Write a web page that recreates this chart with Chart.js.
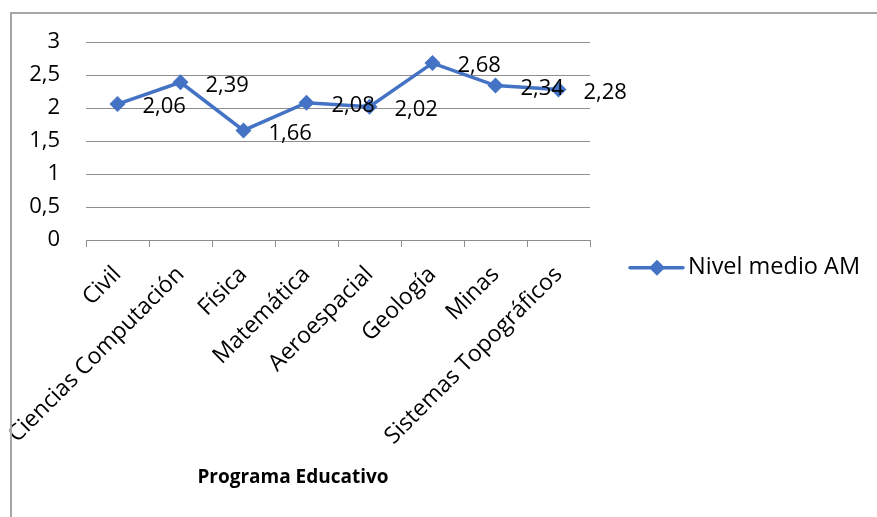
<!DOCTYPE html>
<html>
<head>
<meta charset="utf-8">
<script src="https://cdn.jsdelivr.net/npm/chart.js"></script>
<style>
  html, body { margin: 0; padding: 0; background: #fff; }
  #wrap { position: relative; width: 877px; height: 517px; }
  #frame { position: absolute; left: 10px; top: 12px; right: 0; bottom: 0;
           border-top: 2px solid #a6a6a6; border-left: 2px solid #a6a6a6; pointer-events: none; }
</style>
</head>
<body>
<div id="wrap">
  <canvas id="chart" width="877" height="517"></canvas>
  <div id="frame"></div>
</div>
<script>
const programas = ['Civil', 'Ciencias Computación', 'Física', 'Matemática', 'Aeroespacial', 'Geología', 'Minas', 'Sistemas Topográficos'];
const nivelMedio = [2.06, 2.39, 1.66, 2.08, 2.02, 2.68, 2.34, 2.28];
const serieNombre = 'Nivel medio AM';
const ejeTitulo = 'Programa Educativo';

const azul = '#4472C4';
const gris = '#8e8e8e';
const coma = v => String(v).replace('.', ',');
const fuente = "'Open Sans', 'Noto Sans', sans-serif";

Chart.defaults.font.family = fuente;
Chart.defaults.color = '#000';

// etiquetas de datos a la derecha de cada punto
const etiquetas = {
    id: 'etiquetas',
    afterDatasetsDraw(chart) {
        const ctx = chart.ctx;
        const meta = chart.getDatasetMeta(0);
        ctx.save();
        ctx.font = '22px ' + fuente;
        ctx.fillStyle = '#000';
        ctx.textAlign = 'left';
        ctx.textBaseline = 'middle';
        meta.data.forEach(function (pt, i) {
            ctx.fillText(coma(nivelMedio[i]), pt.x + 25, pt.y + 3);
        });
        ctx.restore();
    }
};

// título del eje y leyenda, dibujados como en Excel
const extras = {
    id: 'extras',
    afterDraw(chart) {
        const ctx = chart.ctx;
        const area = chart.chartArea;
        ctx.save();
        ctx.fillStyle = '#000';
        ctx.font = 'bold 19px ' + fuente;
        ctx.textAlign = 'center';
        ctx.textBaseline = 'middle';
        ctx.fillText(ejeTitulo, (area.left + area.right) / 2 - 45, chart.height - 39);

        const x0 = area.right + 40;
        const y0 = chart.height * 0.518;
        ctx.strokeStyle = azul;
        ctx.lineWidth = 3.5;
        ctx.lineCap = 'round';
        ctx.beginPath();
        ctx.moveTo(x0, y0);
        ctx.lineTo(x0 + 53, y0);
        ctx.stroke();
        ctx.fillStyle = azul;
        ctx.beginPath();
        ctx.moveTo(x0 + 27, y0 - 8);
        ctx.lineTo(x0 + 35, y0);
        ctx.lineTo(x0 + 27, y0 + 8);
        ctx.lineTo(x0 + 19, y0);
        ctx.closePath();
        ctx.fill();
        ctx.fillStyle = '#000';
        ctx.font = '23.5px ' + fuente;
        ctx.textAlign = 'left';
        ctx.fillText(serieNombre, x0 + 58, y0);
        ctx.restore();
    }
};

new Chart(document.getElementById('chart'), {
    type: 'line',
    data: {
        labels: programas,
        datasets: [{
            label: serieNombre,
            data: nivelMedio,
            borderColor: azul,
            backgroundColor: azul,
            borderWidth: 3.5,
            pointStyle: 'rectRot',
            pointRadius: 8,
            pointHoverRadius: 8,
            pointBorderWidth: 0,
            tension: 0
        }]
    },
    options: {
        responsive: false,
        animation: false,
        events: [],
        layout: { padding: { top: 42, right: 287, left: 24, bottom: 64 } },
        plugins: {
            legend: { display: false },
            tooltip: { enabled: false }
        },
        scales: {
            x: {
                offset: true,
                afterFit: function (scale) { scale.height = 213; },
                grid: { offset: true, drawOnChartArea: false, drawTicks: true, tickLength: 7, color: gris },
                border: { display: true, color: gris, width: 1 },
                ticks: { autoSkip: false, minRotation: 45, maxRotation: 45, padding: 14, font: { size: 23 } }
            },
            y: {
                min: 0,
                max: 3,
                afterFit: function (scale) { scale.width = 62; },
                ticks: { stepSize: 0.5, padding: 26, font: { size: 22 }, callback: v => coma(v) },
                grid: { color: gris, drawTicks: false },
                border: { display: false }
            }
        }
    },
    plugins: [etiquetas, extras]
});
</script>
</body>
</html>
